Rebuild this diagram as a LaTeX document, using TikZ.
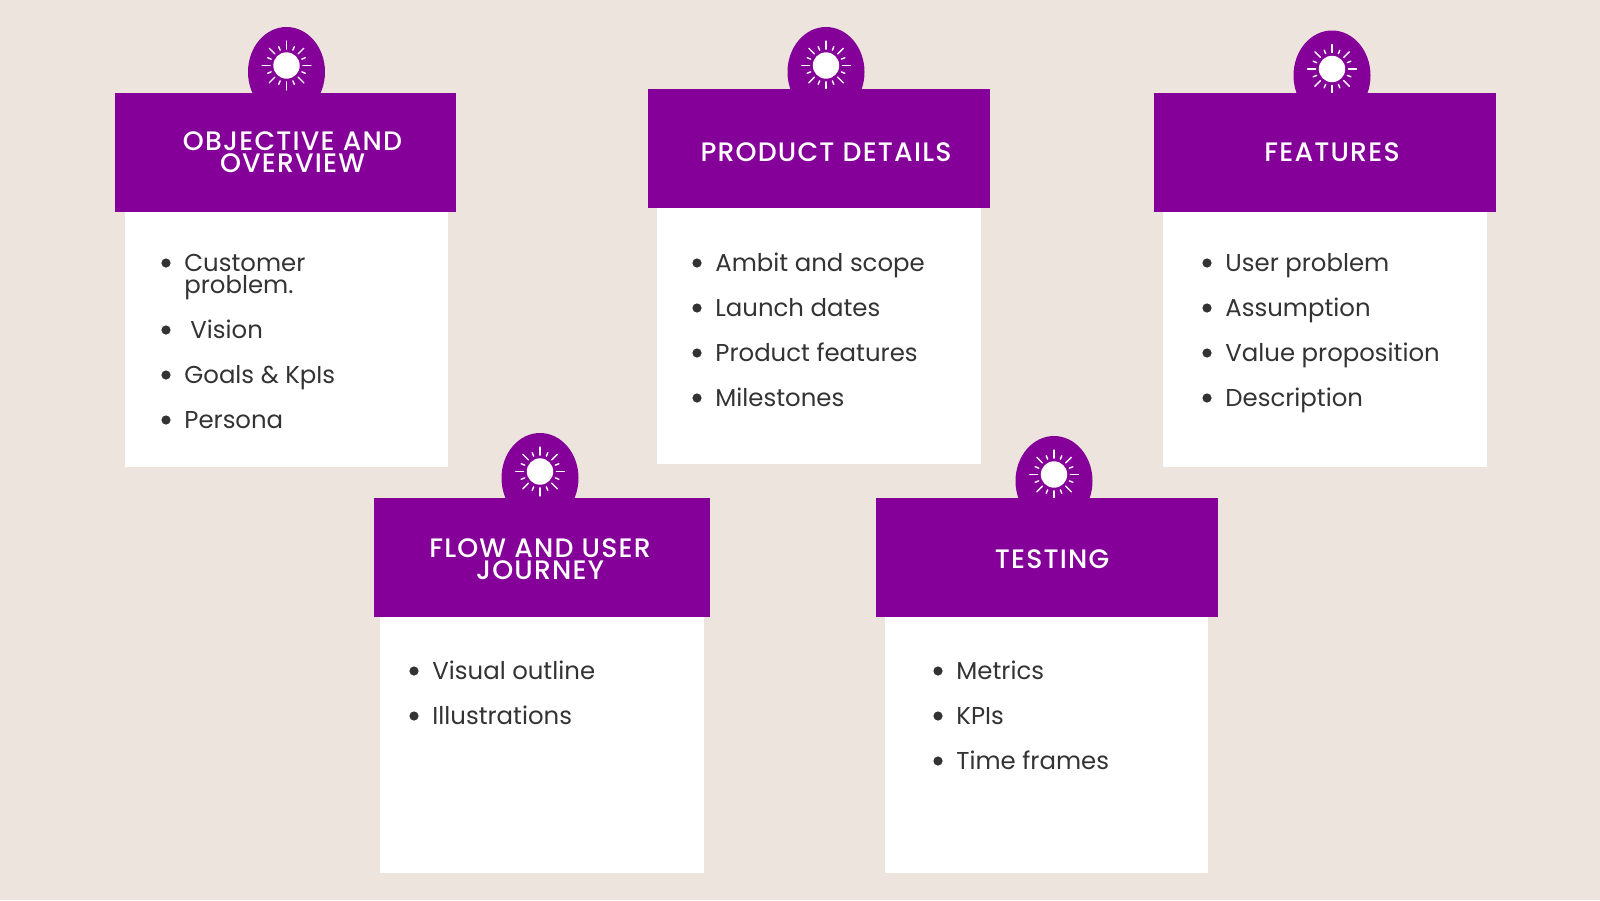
\documentclass[tikz,border=0pt]{standalone}
\usepackage{fontspec}
\setmainfont{Poppins}
\newfontfamily\headfont[LetterSpace=4.5]{Poppins Medium}
\definecolor{bgc}{HTML}{EDE4DE}
\definecolor{purp}{HTML}{850099}
\definecolor{ink}{HTML}{333333}
\tikzset{
  px/.style={x=0.5pt,y=-0.5pt},
  band/.style={fill=purp,draw=none},
  sheet/.style={fill=white,draw=none},
  head/.style={text=white,font=\headfont\fontsize{13.35}{11.2}\selectfont,align=center,anchor=center,inner sep=0pt},
  item/.style={text=ink,font=\fontsize{12.2}{11.2}\selectfont,align=left,anchor=base west,inner sep=0pt},
  dotb/.style={circle,fill=ink,inner sep=0pt,minimum size=4.6pt},
  ray/.style={white,line width=0.7pt,line cap=round}
}
\newcommand{\sunbadge}[2]{%
  \fill[purp] (#1,#2+6.5) ellipse [x radius=19.25pt,y radius=22.5pt];
  \fill[white] (#1,#2) circle [radius=6.6pt];
  \foreach \a in {0,45,...,315}{\draw[ray] (#1,#2)++(\a:8.2pt) -- ++(\a:4pt);}
  \foreach \a in {22.5,67.5,...,337.5}{\draw[ray] (#1,#2)++(\a:8.3pt) -- ++(\a:1.9pt);}
}
\newcommand{\cardbox}[9]{% x1 x2 ytop ybandbottom xw1 xw2 ywbottom sunx suny
  \sunbadge{#8}{#9}
  \fill[sheet] (#5,#4) rectangle (#6,#7);
  \fill[band] (#1,#3) rectangle (#2,#4);
}
\begin{document}
\begin{tikzpicture}[px]
\useasboundingbox (0,0) rectangle (1600,900);
\fill[bgc] (0,0) rectangle (1600,900);
\cardbox{115}{456.3}{92.5}{212}{125}{448}{467}{286.5}{65.5}
\cardbox{648}{990}{89}{208}{657}{980.5}{464}{826}{65.5}
\cardbox{1154}{1496}{92.5}{212}{1163}{1487}{467}{1332}{69}
\cardbox{374}{710}{498}{617}{380}{704}{873}{540}{471.5}
\cardbox{876}{1217.5}{498}{617}{885}{1208}{873}{1054}{474.5}
% headings
\node[head] (h1) at (292.5,152) {OBJECTIVE AND\\OVERVIEW};
\node[head] (h2) at (826,152) {PRODUCT DETAILS};
\node[head] (h3) at (1332,152) {FEATURES};
\node[head] (h4) at (540,559) {FLOW AND USER\\JOURNEY};
\node[head] (h5) at (1052,559) {TESTING};
% card 1
\node[dotb] (d11) at (166,263) {};
\node[item] (t11) at (184,271) {Customer};
\node[item] (t11b) at (184,293.5) {problem.};
\node[dotb] (d12) at (166,330) {};
\node[item] (t12) at (190,338.5) {Vision};
\node[dotb] (d13) at (166,375) {};
\node[item] (t13) at (184,383.5) {Goals \& KpIs};
\node[dotb] (d14) at (166,420) {};
\node[item] (t14) at (184,428.5) {Persona};
% card 2
\node[dotb] (d21) at (697,263) {};
\node[item] (t21) at (715,271) {Ambit and scope};
\node[dotb] (d22) at (697,308) {};
\node[item] (t22) at (715,316) {Launch dates};
\node[dotb] (d23) at (697,353) {};
\node[item] (t23) at (715,361) {Product features};
\node[dotb] (d24) at (697,398) {};
\node[item] (t24) at (715,406) {Milestones};
% card 3
\node[dotb] (d31) at (1207,263) {};
\node[item] (t31) at (1225,271) {User problem};
\node[dotb] (d32) at (1207,308) {};
\node[item] (t32) at (1225,316) {Assumption};
\node[dotb] (d33) at (1207,353) {};
\node[item] (t33) at (1225,361) {Value proposition};
\node[dotb] (d34) at (1207,398) {};
\node[item] (t34) at (1225,406) {Description};
% card 4
\node[dotb] (d41) at (414,671) {};
\node[item] (t41) at (432,679) {Visual outline};
\node[dotb] (d42) at (414,716) {};
\node[item] (t42) at (432,724) {Illustrations};
% card 5
\node[dotb] (d51) at (938,671) {};
\node[item] (t51) at (956,679) {Metrics};
\node[dotb] (d52) at (938,716) {};
\node[item] (t52) at (956,724) {KPIs};
\node[dotb] (d53) at (938,761) {};
\node[item] (t53) at (956,769) {Time frames};
\end{tikzpicture}
\end{document}
